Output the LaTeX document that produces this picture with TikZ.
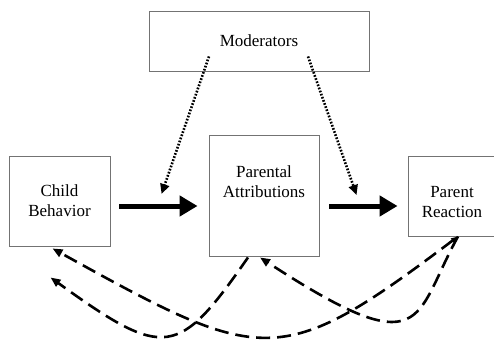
\documentclass[tikz,border=0pt]{standalone}
\usepackage{fontspec}
\setmainfont{Liberation Serif}
\usetikzlibrary{arrows.meta,calc}
\begin{document}
\begin{tikzpicture}[x=1pt,y=-1pt,
 box/.style={draw=black!55,line width=0.9pt,inner sep=0pt,font=\fontsize{17}{20}\selectfont,align=center},
 lbl/.style={font=\fontsize{17}{20}\selectfont,align=center,inner sep=0pt},
 bigarrow/.style={line width=5pt,-{Triangle[length=18pt,width=20pt]}},
 dotarrow/.style={line width=2.6pt,dash pattern=on 1.7pt off 1.6pt,-{Triangle[length=10pt,width=9pt]}},
 dasharrow/.style={line width=2.6pt,dash pattern=on 14pt off 7pt,-{Triangle[length=10pt,width=8pt]}},
]
\useasboundingbox (0,0) rectangle (494,343);
\node[box,minimum width=220pt,minimum height=60pt] (mod) at (259,41) {Moderators};
\node[box,minimum width=110pt,minimum height=121pt] (pa) at (264,195.5) {};
\node[lbl] (patext) at ([yshift=-47pt]pa.north) {Parental\\Attributions};
\node[box,minimum width=101pt,minimum height=90pt] (cb) at (59.5,201) {Child\\Behavior};
\node[box,minimum width=88pt,minimum height=80pt] (pr) at (452,196) {};
\node[lbl] (prtext) at ([yshift=-6pt]pr.center) {Parent\\Reaction};

\draw[bigarrow] ($(cb.east)+(9,5)$) -- ($(pa.west)+(-11,10.5)$);
\draw[bigarrow] ($(pa.east)+(10,10.5)$) -- ($(pr.west)+(-10,10)$);

\draw[dotarrow] ($(mod.south)+(-50,-15)$) -- ($(pa.west)+(-47,-1.5)$);
\draw[dotarrow] ($(mod.south)+(49,-15)$) -- ($(pr.west)+(-51,-1)$);

\draw[dasharrow] ($(pa.south)+(-16,1)$) .. controls (178,358) and (165,360) .. ($(cb.south)+(-9,31)$);
\draw[dasharrow,{Triangle[length=7pt,width=5pt]}-{Triangle[length=10pt,width=8pt]}] ($(pr.south)+(6,0)$) .. controls (279,371.5) and (263,365) .. ($(cb.south)+(-7,2)$);
\draw[dasharrow] ($(pr.south)+(6,0)$) .. controls (413,318) and (428,367) .. ($(pa.south)+(-4,1)$);
\end{tikzpicture}
\end{document}
